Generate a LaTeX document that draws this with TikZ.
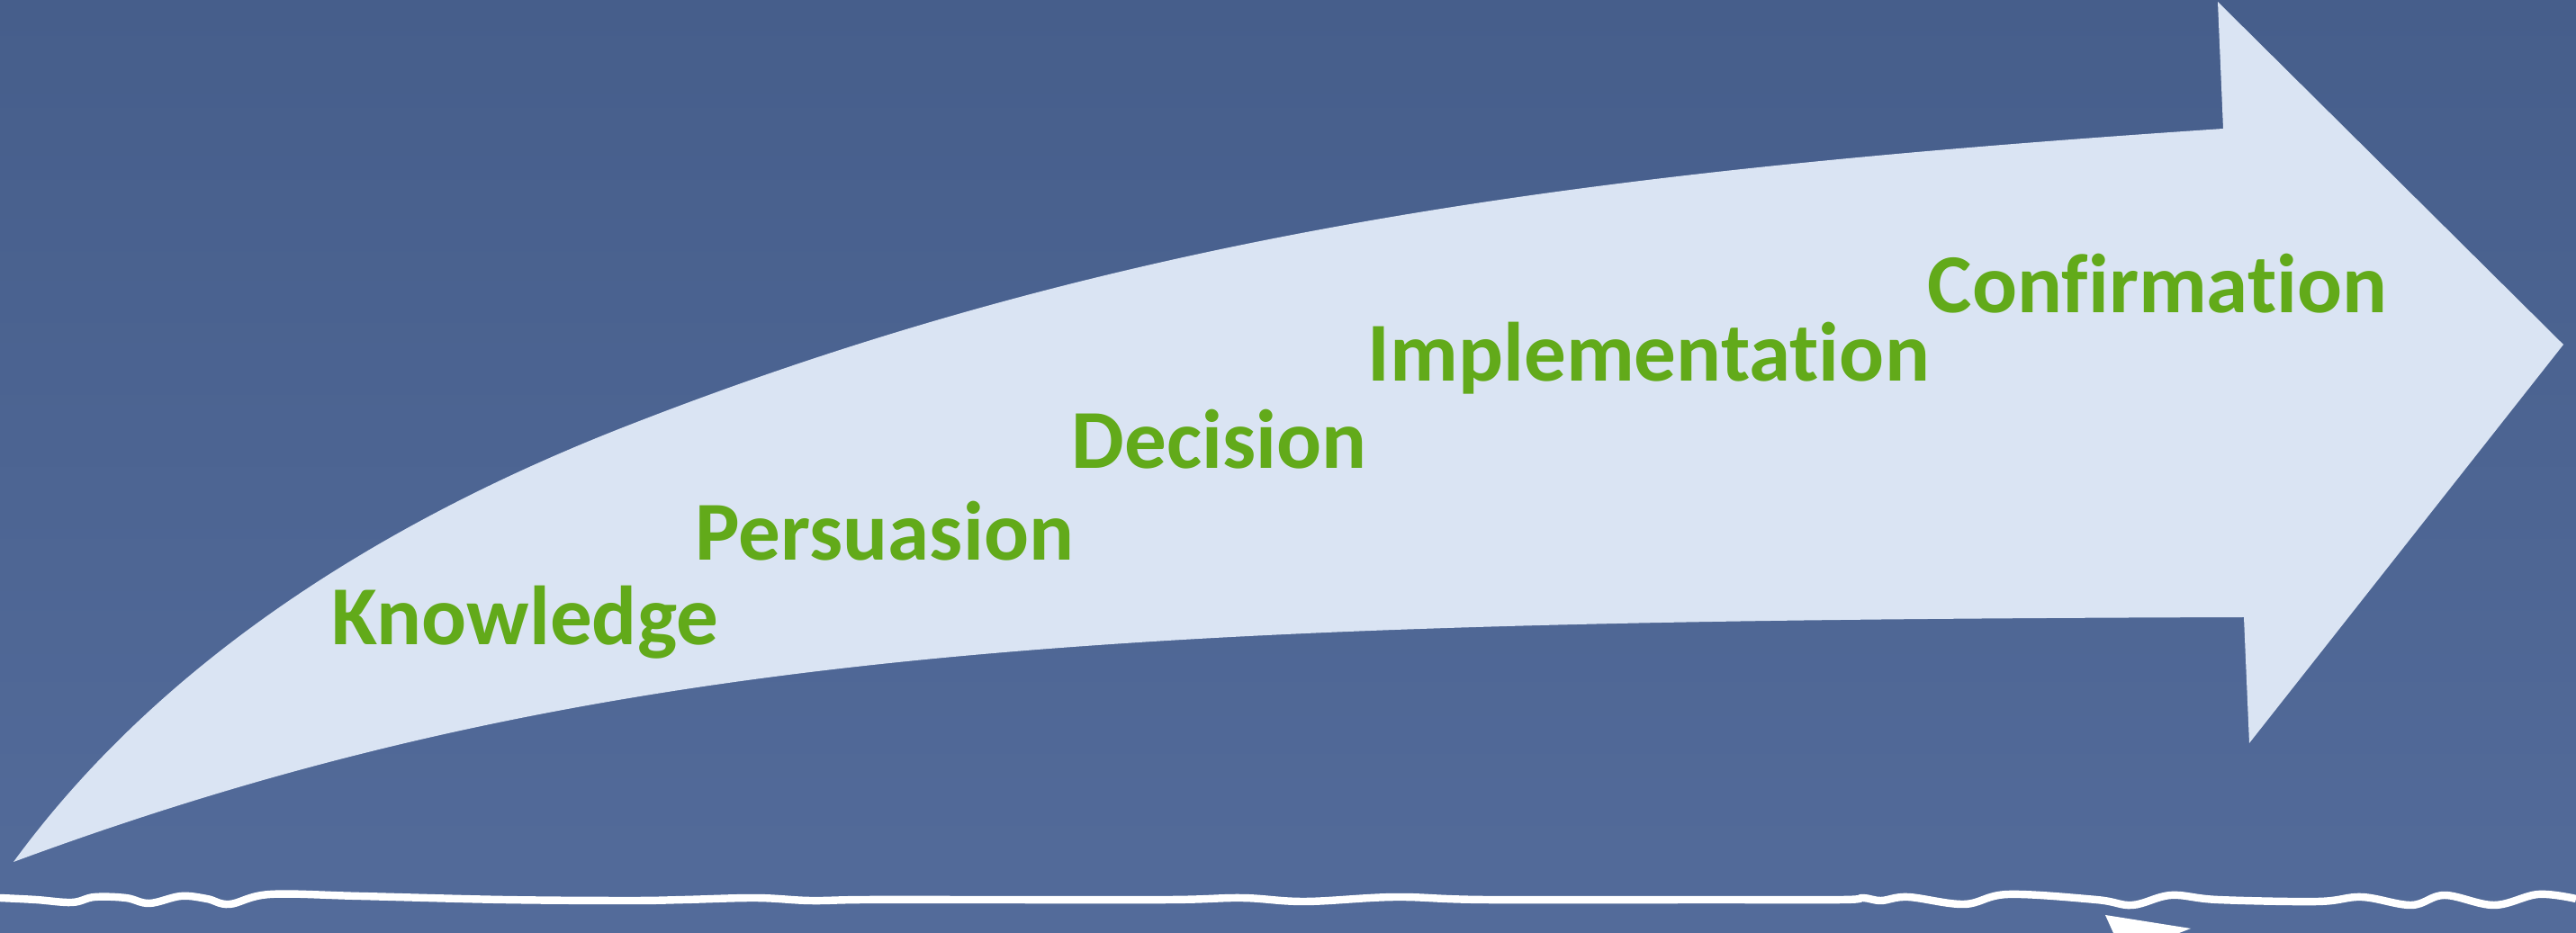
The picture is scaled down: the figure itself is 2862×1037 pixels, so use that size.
\documentclass[tikz,border=0pt]{standalone}
\usepackage{fontspec}
\setmainfont{Carlito}[Ligatures={NoCommon,NoContextual,NoRequired}, Contextuals=NoAlternate]
\definecolor{bgtop}{HTML}{465E8B}
\definecolor{bgbottom}{HTML}{536B9A}
\definecolor{arrowfill}{HTML}{DAE4F3}
\definecolor{stagegreen}{HTML}{62AA1A}
\begin{document}
\begin{tikzpicture}[x=0.01cm, y=-0.01cm,
  stage/.style={anchor=base west, inner sep=0pt, text=stagegreen, font=\fontsize{26.5}{30}\selectfont\bfseries}]
\useasboundingbox (0,0) rectangle (2862,1037);
\shade [top color=bgtop, bottom color=bgbottom] (0,0) rectangle (2862,1037);
% big curved arrow
\fill [arrowfill] (15,958) .. controls (192,716) and (458,566) .. (700,472)
  .. controls (1259,254) and (1771,190) .. (2470,143)
  -- (2464,2) -- (2848,383) -- (2499,826) -- (2493,686)
  .. controls (1250,690) and (672,715) .. (15,958) -- cycle;
% stages
\node [stage] (knowledge) at (368,717) {Knowledge};
\node [stage] (persuasion) at (772,623) {Persuasion};
\node [stage] (decision) at (1190,521) {Decision};
\node [stage] (implementation) at (1519,424) {Implementation};
\node [stage] (confirmation) at (2141,348) {Confirmation};
% wavy line
\draw [white, line width=2.4pt] plot[smooth, tension=.6] coordinates {(0,998) (40,1000) (80,1003) (105,997) (140,998) (166,1004) (201,996) (230,999) (255,1005) (300,994) (400,996) (560,1000) (700,1001) (760,1000) (840,998) (900,1001) (960,1000) (1100,1000) (1300,1000) (1380,998) (1450,1002) (1550,997) (1650,1000) (1900,1000) (2047,1000) (2070,998) (2090,1001) (2120,997) (2182,1005) (2231,994) (2329,1000) (2369,1006) (2412,995) (2464,1000) (2575,1002) (2624,997) (2679,1006) (2716,995) (2771,1006) (2820,994) (2862,999)};
\fill [white] (2339,1017) -- (2434,1032) -- (2421,1037) -- (2348,1037) -- cycle;
\end{tikzpicture}
\end{document}
